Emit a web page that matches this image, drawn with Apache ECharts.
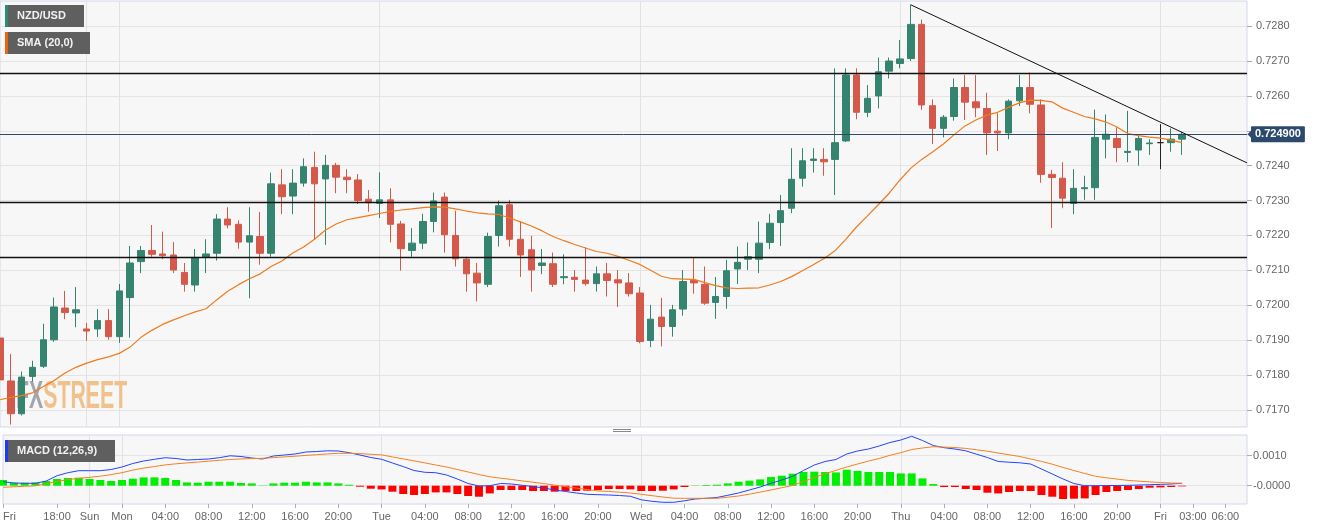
<!DOCTYPE html>
<html><head><meta charset="utf-8">
<script src="https://cdn.jsdelivr.net/npm/echarts@6/dist/echarts.min.js"></script>
<style>html,body{margin:0;padding:0;background:#fff}#c{width:1324px;height:530px}</style>
</head><body><div id="c"></div>
<script>
// ---- categories (hourly, market hours only) ----
const daySpans = [['Fri',13,20],['Sun',21,23],['Mon',0,23],['Tue',0,23],['Wed',0,23],['Thu',0,23],['Fri',0,8]];
const times = [];
daySpans.forEach(([d,a,b]) => { for (let h=a; h<=b; h++) times.push(d+' '+String(h).padStart(2,'0')+':00'); });

// ---- x tick labels ----
const xTickIdx  = [0,5,8,11,15,19,23,27,31,35,39,43,47,51,55,59,63,67,71,75,79,83,87,91,95,99,103,107,110,113];
const xTickText = ['Fri','18:00','Sun','Mon','04:00','08:00','12:00','16:00','20:00','Tue','04:00','08:00','12:00','16:00','20:00','Wed','04:00','08:00','12:00','16:00','20:00','Thu','04:00','08:00','12:00','16:00','20:00','Fri','03:00','06:00'];
const dayLines = [8,11,35,59,83,107];

// ---- y ticks ----
const priceTicks = [0.7170,0.7180,0.7190,0.7200,0.7210,0.7220,0.7230,0.7240,0.7250,0.7260,0.7270,0.7280];
const macdTicks = [0, 0.0010];
const macdTickText = ['-0.0000','0.0010'];

// ---- OHLC ----
const opens = [0.71906,0.71783,0.71689,0.71796,0.71825,0.71901,0.71992,0.71978,0.71932,0.71932,
0.71956,0.71910,0.72022,0.72125,0.72157,0.72147,0.72144,0.72094,0.72058,0.72138,
0.72149,0.72247,0.72232,0.72181,0.72197,0.72149,0.72345,0.72313,0.72350,0.72395,
0.72362,0.72401,0.72367,0.72359,0.72304,0.72292,0.72302,0.72233,0.72157,0.72178,
0.72240,0.72310,0.72200,0.72132,0.72092,0.72060,0.72200,0.72288,0.72189,0.72159,
0.72114,0.72119,0.72079,0.72080,0.72072,0.72062,0.72090,0.72073,0.72064,0.72035,
0.71899,0.71966,0.71939,0.71989,0.72071,0.72060,0.72008,0.72025,0.72104,0.72132,
0.72132,0.72180,0.72237,0.72278,0.72364,0.72415,0.72418,0.72418,0.72471,0.72660,
0.72553,0.72600,0.72671,0.72693,0.72707,0.72805,0.72572,0.72507,0.72541,0.72624,
0.72583,0.72564,0.72499,0.72494,0.72586,0.72624,0.72574,0.72375,0.72364,0.72292,
0.72334,0.72337,0.72476,0.72478,0.72438,0.72445,0.72463,0.72466,0.72466,0.72476];
const closes = [0.71786,0.71689,0.71794,0.71822,0.71901,0.71995,0.71979,0.71987,0.71926,0.71956,
0.71910,0.72041,0.72121,0.72157,0.72146,0.72142,0.72101,0.72060,0.72137,0.72147,
0.72247,0.72230,0.72181,0.72199,0.72149,0.72348,0.72311,0.72350,0.72397,0.72348,
0.72401,0.72367,0.72360,0.72300,0.72294,0.72302,0.72232,0.72162,0.72178,0.72240,
0.72299,0.72202,0.72133,0.72090,0.72064,0.72197,0.72285,0.72189,0.72144,0.72101,
0.72121,0.72060,0.72082,0.72074,0.72062,0.72090,0.72071,0.72064,0.72033,0.71896,
0.71960,0.71939,0.71987,0.72068,0.72064,0.72006,0.72025,0.72099,0.72123,0.72139,
0.72178,0.72235,0.72271,0.72361,0.72414,0.72419,0.72411,0.72466,0.72660,0.72553,
0.72593,0.72669,0.72700,0.72706,0.72805,0.72574,0.72507,0.72539,0.72624,0.72582,
0.72566,0.72494,0.72494,0.72585,0.72624,0.72576,0.72375,0.72366,0.72307,0.72335,
0.72337,0.72481,0.72490,0.72452,0.72441,0.72478,0.72465,0.72466,0.72476,0.72490];
const lows = [0.71780,0.71658,0.71684,0.71781,0.71820,0.71895,0.71960,0.71937,0.71898,0.71909,
0.71901,0.71892,0.71907,0.72092,0.72139,0.72132,0.72092,0.72039,0.72039,0.72092,
0.72128,0.72220,0.72162,0.72020,0.72116,0.72139,0.72261,0.72261,0.72340,0.72187,
0.72173,0.72321,0.72321,0.72290,0.72268,0.72250,0.72180,0.72099,0.72139,0.72161,
0.72209,0.72151,0.72111,0.72039,0.72011,0.72052,0.72168,0.72168,0.72081,0.72039,
0.72089,0.72052,0.72060,0.72039,0.72056,0.72039,0.72025,0.71995,0.72025,0.71891,
0.71880,0.71882,0.71910,0.71970,0.72033,0.72001,0.71961,0.71990,0.72061,0.72101,
0.72092,0.72161,0.72170,0.72264,0.72340,0.72380,0.72371,0.72316,0.72468,0.72533,
0.72539,0.72564,0.72650,0.72679,0.72700,0.72560,0.72462,0.72481,0.72529,0.72531,
0.72539,0.72431,0.72442,0.72476,0.72571,0.72550,0.72351,0.72221,0.72278,0.72261,
0.72302,0.72302,0.72421,0.72410,0.72410,0.72400,0.72431,0.72390,0.72440,0.72431];
const highs = [0.71953,0.71860,0.71810,0.71841,0.71947,0.72022,0.72041,0.72052,0.71949,0.71989,
0.71989,0.72061,0.72170,0.72170,0.72230,0.72211,0.72181,0.72121,0.72161,0.72189,
0.72261,0.72281,0.72243,0.72281,0.72267,0.72380,0.72390,0.72390,0.72421,0.72440,
0.72431,0.72408,0.72390,0.72376,0.72330,0.72381,0.72335,0.72242,0.72221,0.72262,
0.72323,0.72323,0.72271,0.72139,0.72121,0.72208,0.72300,0.72302,0.72240,0.72199,
0.72161,0.72151,0.72146,0.72101,0.72166,0.72111,0.72121,0.72101,0.72092,0.72052,
0.72001,0.72021,0.72001,0.72101,0.72135,0.72111,0.72081,0.72130,0.72168,0.72180,
0.72240,0.72262,0.72316,0.72450,0.72450,0.72450,0.72450,0.72679,0.72679,0.72679,
0.72631,0.72710,0.72710,0.72760,0.72862,0.72819,0.72590,0.72545,0.72650,0.72660,
0.72660,0.72609,0.72550,0.72590,0.72660,0.72667,0.72590,0.72388,0.72410,0.72390,
0.72371,0.72561,0.72547,0.72510,0.72557,0.72485,0.72476,0.72519,0.72507,0.72497];
const dojiIndex = 107;

// ---- SMA(20) ----
const sma = [0.71729,0.71736,0.71741,0.71749,0.71767,0.71784,0.71806,0.71822,0.71834,0.71844,
0.71852,0.71862,0.71880,0.71908,0.71928,0.71945,0.71958,0.71970,0.71981,0.71990,
0.72016,0.72040,0.72059,0.72076,0.72090,0.72111,0.72127,0.72150,0.72167,0.72189,
0.72215,0.72233,0.72245,0.72251,0.72257,0.72263,0.72269,0.72273,0.72276,0.72280,
0.72282,0.72281,0.72276,0.72270,0.72265,0.72262,0.72260,0.72250,0.72239,0.72227,
0.72213,0.72197,0.72185,0.72174,0.72164,0.72154,0.72149,0.72140,0.72129,0.72117,
0.72100,0.72083,0.72076,0.72075,0.72074,0.72065,0.72056,0.72050,0.72048,0.72049,
0.72050,0.72058,0.72068,0.72082,0.72099,0.72116,0.72134,0.72156,0.72189,0.72225,
0.72256,0.72288,0.72321,0.72359,0.72393,0.72418,0.72439,0.72462,0.72489,0.72514,
0.72531,0.72545,0.72553,0.72567,0.72580,0.72588,0.72587,0.72583,0.72565,0.72553,
0.72541,0.72534,0.72525,0.72511,0.72492,0.72486,0.72482,0.72479,0.72473,0.72466];

// ---- MACD(12,26,9) ----
const macdLine = [0.000133,0.000090,0.000080,0.000080,0.000157,0.000333,0.000433,0.000500,0.000500,0.000500,
0.000540,0.000623,0.000740,0.000823,0.000880,0.000933,0.000907,0.000857,0.000873,0.000890,
0.000933,0.000997,0.000973,0.000923,0.000890,0.000990,0.001023,0.001057,0.001123,0.001140,
0.001163,0.001157,0.001100,0.001023,0.000940,0.000880,0.000757,0.000637,0.000507,0.000447,
0.000433,0.000357,0.000223,0.000073,-0.000010,0,0.000073,0.000057,0.000013,-0.000027,
-0.000077,-0.000143,-0.000193,-0.000243,-0.000287,-0.000300,-0.000310,-0.000327,-0.000353,-0.000470,
-0.000520,-0.000553,-0.000553,-0.000503,-0.000443,-0.000420,-0.000393,-0.000320,-0.000243,-0.000143,
-0.000043,0.000080,0.000190,0.000313,0.000507,0.000690,0.000807,0.000873,0.001057,0.001157,
0.001223,0.001323,0.001440,0.001523,0.001647,0.001507,0.001340,0.001267,0.001223,0.001163,
0.001050,0.000940,0.000807,0.000783,0.000763,0.000723,0.000557,0.000390,0.000223,0.000073,
0,0,0.000003,0.000007,0.000013,0.000023,0.000033,0.000043,0.000057,0.000080];
const signalLine = [-0.000053,-0.000037,-0.000020,-0.000003,0.000063,0.000133,0.000207,0.000243,0.000280,0.000317,
0.000370,0.000433,0.000520,0.000587,0.000640,0.000693,0.000730,0.000760,0.000787,0.000817,
0.000847,0.000873,0.000893,0.000903,0.000913,0.000937,0.000960,0.000983,0.001010,0.001033,
0.001060,0.001080,0.001080,0.001067,0.001047,0.001027,0.000960,0.000893,0.000830,0.000760,
0.000690,0.000623,0.000540,0.000457,0.000373,0.000297,0.000250,0.000207,0.000160,0.000117,
0.000070,0.000020,-0.000030,-0.000080,-0.000130,-0.000173,-0.000193,-0.000217,-0.000243,-0.000287,
-0.000333,-0.000377,-0.000417,-0.000420,-0.000420,-0.000420,-0.000420,-0.000383,-0.000343,-0.000283,
-0.000213,-0.000143,-0.000067,0.000010,0.000137,0.000273,0.000400,0.000510,0.000623,0.000723,
0.000820,0.000907,0.001013,0.001100,0.001207,0.001257,0.001300,0.001287,0.001273,0.001243,
0.001197,0.001150,0.001090,0.001030,0.000973,0.000890,0.000810,0.000717,0.000607,0.000507,
0.000407,0.000313,0.000263,0.000220,0.000177,0.000150,0.000127,0.000107,0.000090,0.000080];
const macdHist = [0.000190,0.000100,0.000100,0.000110,0.000157,0.000223,0.000257,0.000267,0.000223,0.000190,
0.000157,0.000190,0.000233,0.000277,0.000277,0.000257,0.000190,0.000110,0.000100,0.000133,
0.000133,0.000133,0.000090,0.000077,0.000010,0.000077,0.000100,0.000100,0.000133,0.000110,
0.000110,0.000077,0.000033,-0.000033,-0.000100,-0.000123,-0.000200,-0.000277,-0.000310,-0.000277,
-0.000223,-0.000223,-0.000277,-0.000343,-0.000367,-0.000257,-0.000143,-0.000143,-0.000143,-0.000177,
-0.000177,-0.000200,-0.000177,-0.000177,-0.000167,-0.000143,-0.000110,-0.000110,-0.000123,-0.000177,
-0.000177,-0.000167,-0.000123,-0.000043,0.000010,0.000023,0.000033,0.000077,0.000133,0.000167,
0.000210,0.000290,0.000333,0.000400,0.000457,0.000467,0.000457,0.000443,0.000533,0.000490,
0.000457,0.000457,0.000457,0.000410,0.000410,0.000243,0.000057,-0.000043,-0.000043,-0.000110,
-0.000143,-0.000233,-0.000257,-0.000210,-0.000177,-0.000177,-0.000310,-0.000367,-0.000443,-0.000433,
-0.000423,-0.000310,-0.000210,-0.000177,-0.000143,-0.000110,-0.000067,-0.000057,-0.000043,-0.000023];

// ---- drawn levels ----
const levels = [0.72665, 0.72296, 0.72138];
const trendFrom = [84, 0.72861];
const trendTo = [115, 0.72408];
const lastPrice = closes[closes.length - 1];

// ---- styles ----
const UP = '#34846f', DOWN = '#d5594a', NAVY = '#2c4a6e';
const FONT = '"Liberation Sans", Arial, sans-serif';
const axisLbl = {color:'#666', fontSize:11, fontFamily:FONT};

const candleData = opens.map((o,i) => {
  const v = [o, closes[i], lows[i], highs[i]];
  if (i === dojiIndex) return {value:v, itemStyle:{color:'#222', color0:'#222', borderColor:'#222', borderColor0:'#222'}};
  return v;
});

const chart = echarts.init(document.getElementById('c'), null, {renderer:'canvas'});
const xLabelOf = {};
xTickIdx.forEach((k,j) => xLabelOf[k] = xTickText[j]);

const gridCommon = {left:0, width:1247, show:true, backgroundColor:'#f7f7f7', borderColor:'#d3d8e8', borderWidth:1};

const markLines = [
  ...levels.map(v=>({yAxis:v, lineStyle:{color:'#111', width:1.3, type:'solid'}})),
  {yAxis:lastPrice, lineStyle:{color:NAVY, width:1, type:'solid'},
   label:{show:true, position:'end', distance:4, formatter:lastPrice.toFixed(6), color:'#fff', fontWeight:'bold', fontSize:11, fontFamily:FONT, backgroundColor:NAVY, padding:[3,4,2,4], borderRadius:1}},
  [{coord:[times[trendFrom[0]], trendFrom[1]], lineStyle:{color:'#111', width:1, type:'solid'}},
   {coord:[times[trendTo[0]], trendTo[1]]}]
];

const option = {
  animation:false,
  textStyle:{fontFamily:FONT},
  grid:[
    Object.assign({top:1, height:426}, gridCommon),
    Object.assign({top:435, height:69}, gridCommon)
  ],
  xAxis:[
    {type:'category', gridIndex:0, data:times, boundaryGap:false,
     axisLine:{show:false, onZero:false}, axisTick:{show:false}, axisLabel:{show:false},
     splitLine:{show:true, interval:(i)=>dayLines.includes(i), lineStyle:{color:'#e2e2e2', width:1}}},
    {type:'category', gridIndex:1, data:times, boundaryGap:false, position:'bottom',
     axisLine:{show:false, onZero:false},
     axisTick:{show:true, interval:(i)=>xLabelOf[i]!==undefined, length:4, lineStyle:{color:'#b0b0b0'}},
     axisLabel:Object.assign({interval:(i)=>xLabelOf[i]!==undefined, formatter:(v,i)=>xLabelOf[i]||'', margin:7, alignMinLabel:'left'}, axisLbl),
     splitLine:{show:true, interval:(i)=>dayLines.includes(i), lineStyle:{color:'#e2e2e2', width:1}}}
  ],
  yAxis:[
    {type:'value', gridIndex:0, position:'right', min:0.71651, max:0.72872,
     axisLine:{show:false},
     axisTick:{show:true, customValues:priceTicks, length:5, lineStyle:{color:'#aaa'}},
     axisLabel:Object.assign({customValues:priceTicks, margin:9, formatter:(v)=>Math.abs(v-0.725)<1e-7?'':v.toFixed(4)}, axisLbl),
     splitLine:{show:true, lineStyle:{color:'#e4e4e4'}}},
    {type:'value', gridIndex:1, position:'right', min:-0.00061, max:0.00169,
     axisLine:{show:false},
     axisTick:{show:true, customValues:macdTicks, length:5, lineStyle:{color:'#aaa'}},
     axisLabel:Object.assign({customValues:macdTicks, margin:6, formatter:(v)=>macdTickText[macdTicks.findIndex(t=>Math.abs(t-v)<1e-9)]}, axisLbl),
     splitLine:{show:true, lineStyle:{color:'#e4e4e4'}}}
  ],
  series:[
    {type:'candlestick', name:'NZD/USD', xAxisIndex:0, yAxisIndex:0, data:candleData, barWidth:7, z:3,
     itemStyle:{color:UP, color0:DOWN, borderColor:UP, borderColor0:DOWN, borderWidth:1}},
    {type:'line', name:'SMA (20,0)', xAxisIndex:0, yAxisIndex:0, data:sma, showSymbol:false, z:4,
     lineStyle:{color:'#f07a1c', width:1.2}, itemStyle:{color:'#f07a1c'},
     markLine:{silent:true, precision:6, symbol:['none','none'], animation:false, label:{show:false}, data:markLines}},
    {type:'bar', name:'Hist', xAxisIndex:1, yAxisIndex:1, data:macdHist, barWidth:8, z:2,
     itemStyle:{color:(p)=>p.value>=0?'#00ee00':'#ff0000'}},
    {type:'line', name:'MACD', xAxisIndex:1, yAxisIndex:1, data:macdLine, showSymbol:false, z:4,
     lineStyle:{color:'#2343ff', width:1}},
    {type:'line', name:'Signal', xAxisIndex:1, yAxisIndex:1, data:signalLine, showSymbol:false, z:4,
     lineStyle:{color:'#f5821f', width:1}}
  ],
  graphic:[
    {type:'text', x:16, y:379, scaleX:0.56, z:1, silent:true,
     style:{text:'{a|FX}{b|STREET}', rich:{
       a:{fill:'#a2a5ad', font:'bold 38px "Liberation Sans", Arial'},
       b:{fill:'#f1c18b', font:'bold 38px "Liberation Sans", Arial'}}}},
    {type:'rect', z:100, shape:{x:5,y:5,width:79,height:22}, style:{fill:'#5f5f5f'}},
    {type:'rect', z:101, shape:{x:5,y:5,width:3,height:22}, style:{fill:'#2f8a74'}},
    {type:'text', z:101, x:17, y:16, style:{text:'NZD/USD', font:'bold 11px "Liberation Sans", Arial', fill:'#f2f2f2', verticalAlign:'middle'}},
    {type:'rect', z:100, shape:{x:5,y:32,width:85,height:22}, style:{fill:'#5f5f5f'}},
    {type:'rect', z:101, shape:{x:5,y:32,width:3,height:22}, style:{fill:'#e8640e'}},
    {type:'text', z:101, x:17, y:43, style:{text:'SMA (20,0)', font:'bold 11px "Liberation Sans", Arial', fill:'#f2f2f2', verticalAlign:'middle'}},
    {type:'rect', z:100, shape:{x:5,y:440,width:110,height:22}, style:{fill:'#5f5f5f'}},
    {type:'rect', z:101, shape:{x:5,y:440,width:3,height:22}, style:{fill:'#1b3cf5'}},
    {type:'text', z:101, x:17, y:451, style:{text:'MACD (12,26,9)', font:'bold 11px "Liberation Sans", Arial', fill:'#f2f2f2', verticalAlign:'middle'}},
    {type:'line', z:100, shape:{x1:613,y1:429.5,x2:631,y2:429.5}, style:{stroke:'#888', lineWidth:1}},
    {type:'line', z:100, shape:{x1:613,y1:431.5,x2:631,y2:431.5}, style:{stroke:'#888', lineWidth:1}}
  ]
};
chart.setOption(option);

// small pointer on the last-price tag, placed through the axis scale
const py = chart.convertToPixel({yAxisIndex:0}, lastPrice);
const px = chart.convertToPixel({xAxisIndex:0}, times[times.length-1]);
chart.setOption({graphic:[{id:'tagArrow', type:'polygon', z:120, silent:true,
  shape:{points:[[px+0.5, py],[px+4.5, py-4],[px+4.5, py+4]]}, style:{fill:NAVY}}]});
</script></body></html>
